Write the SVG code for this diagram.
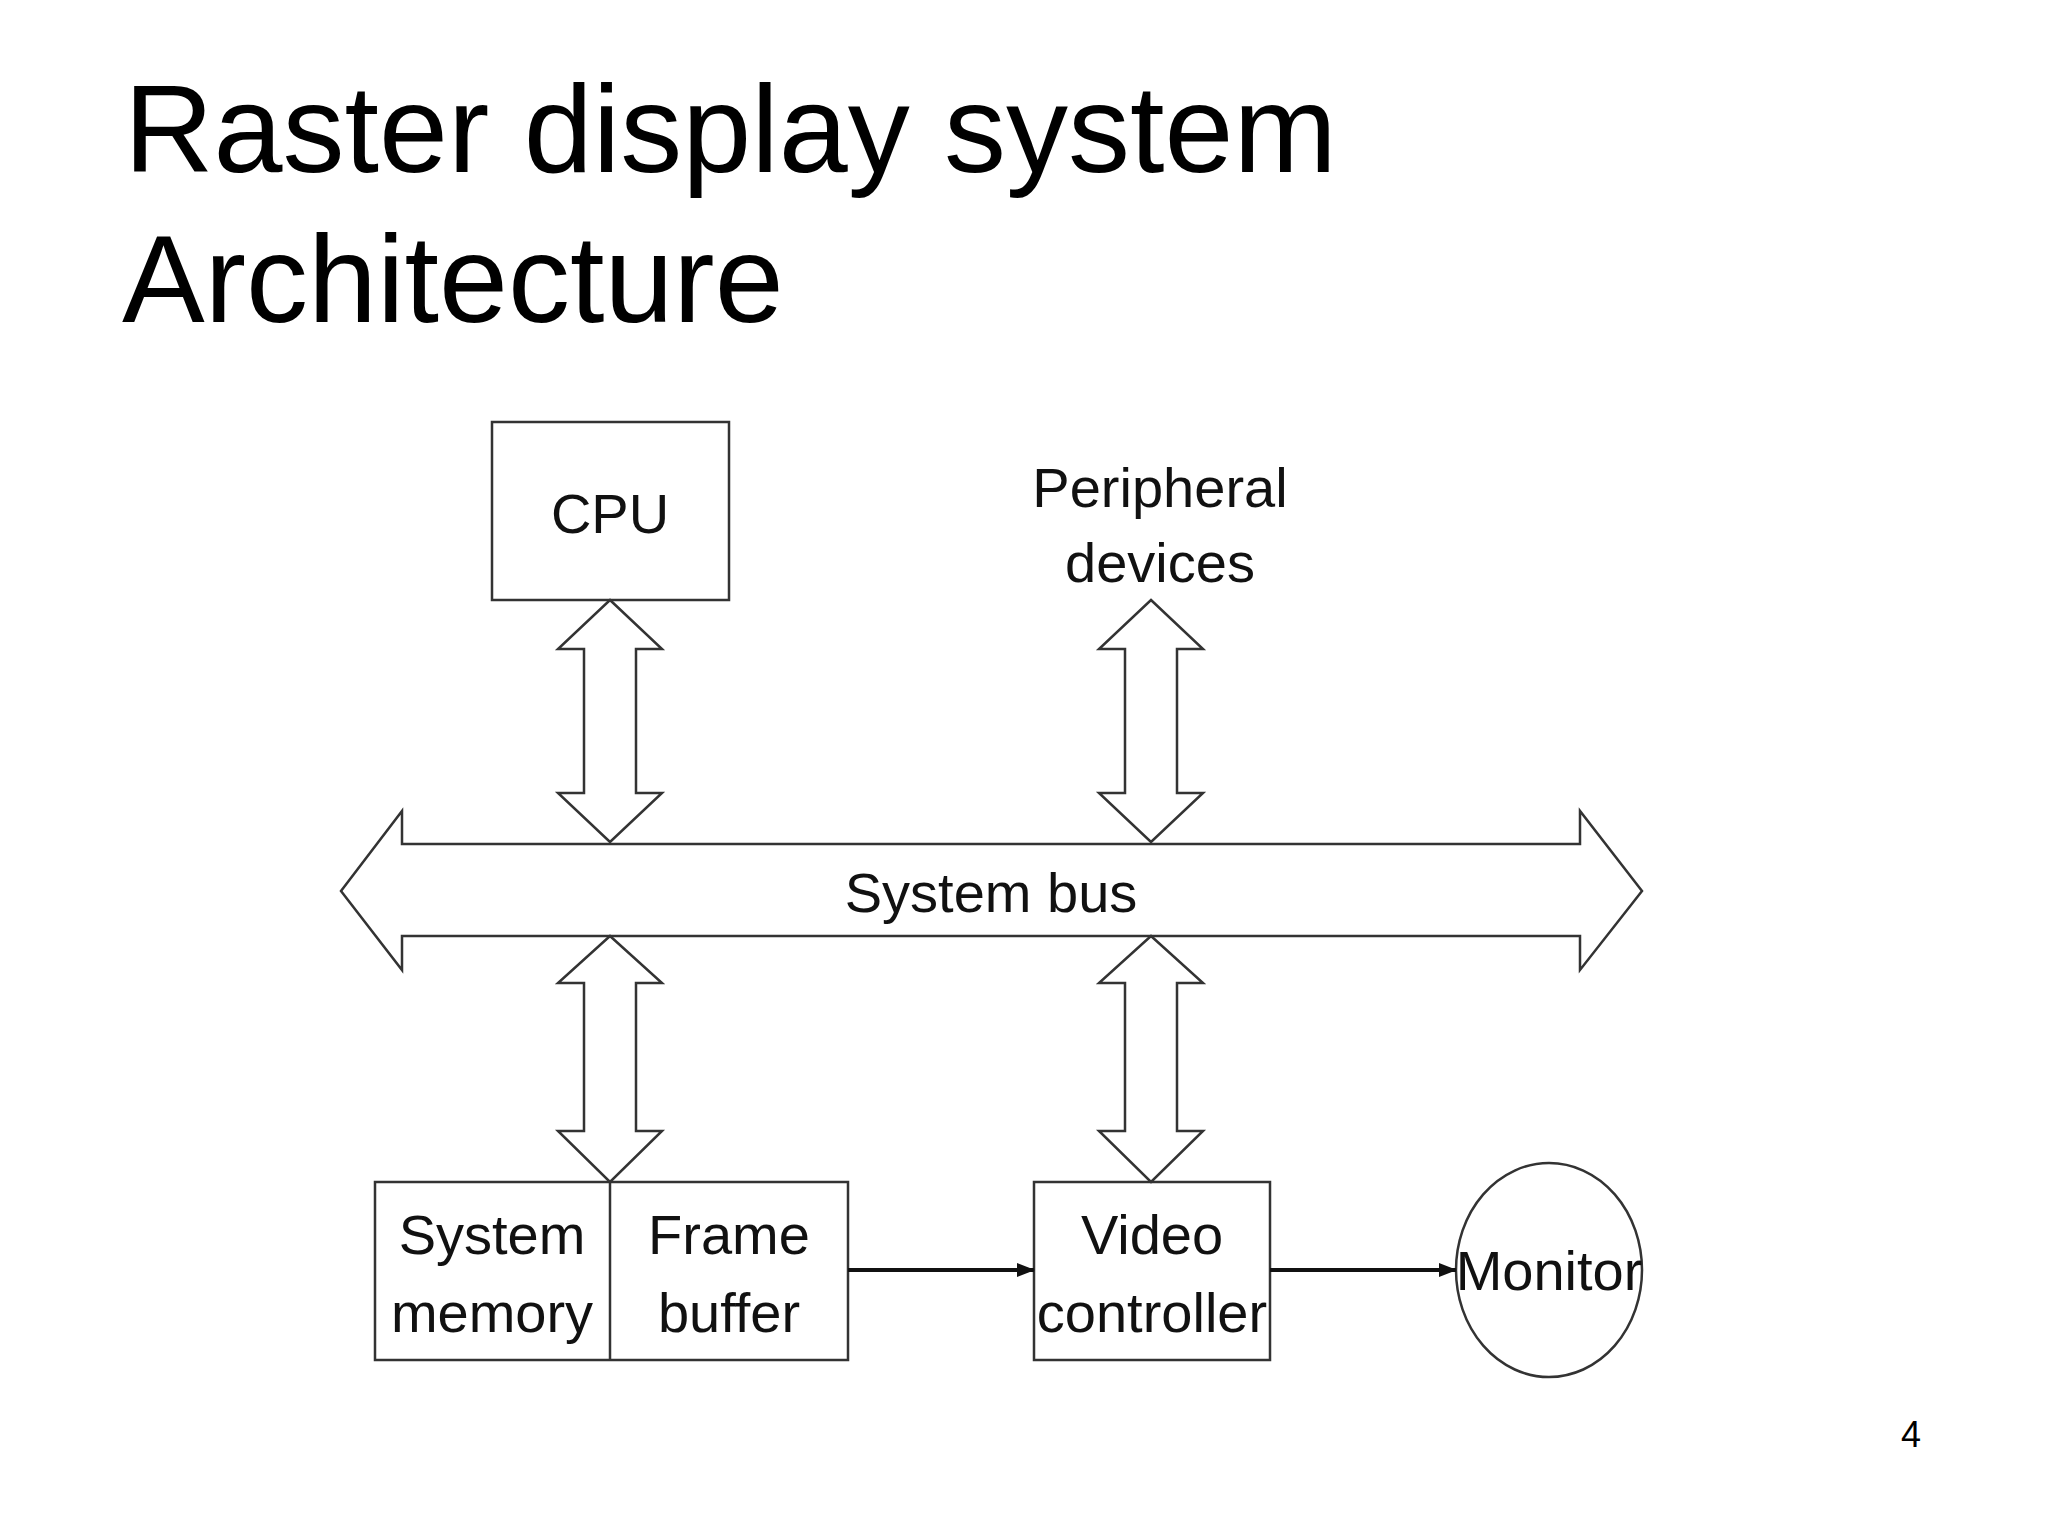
<svg xmlns="http://www.w3.org/2000/svg" width="2048" height="1536" viewBox="0 0 2048 1536">
<style>
.t{font-family:"Liberation Sans Narrow","Liberation Sans",Arial,sans-serif;font-size:56px;text-anchor:middle;fill:#111}
.s{fill:#fff;stroke:#333;stroke-width:2.5}
.title{font-family:"Liberation Sans",Arial,sans-serif;font-size:124px;fill:#000}
</style>
<defs>
<marker id="ah" markerWidth="10" markerHeight="10" refX="9" refY="5" orient="auto" markerUnits="userSpaceOnUse" viewBox="0 0 10 10"><path d="M0,0 L10,5 L0,10 z" fill="#111"/></marker>
<marker id="ah2" markerWidth="18" markerHeight="18" refX="17" refY="9" orient="auto" markerUnits="userSpaceOnUse" viewBox="0 0 18 18"><path d="M0,2 L18,9 L0,16 z" fill="#111"/></marker>
</defs>
<rect width="2048" height="1536" fill="#fff"/>
<text class="title" x="124" y="172">Raster display system</text>
<text class="title" x="122" y="322">Architecture</text>
<g id="cpu"><rect class="s" x="492" y="422" width="237" height="178"/><text class="t" x="610" y="533">CPU</text></g>
<g id="peripheral"><text class="t" x="1160" y="507">Peripheral</text><text class="t" x="1160" y="582">devices</text></g>
<g id="bus"><path class="s" d="M341,891 L402,811 L402,844 L1580,844 L1580,811 L1642,891 L1580,970 L1580,936 L402,936 L402,970 Z"/><text class="t" x="991" y="912">System bus</text></g>
<g id="memory"><rect class="s" x="375" y="1182" width="473" height="178"/><line x1="610" y1="1182" x2="610" y2="1360" stroke="#333" stroke-width="2.5"/><text class="t" x="492" y="1254">System</text><text class="t" x="492" y="1332">memory</text><text class="t" x="729" y="1254">Frame</text><text class="t" x="729" y="1332">buffer</text></g>
<g id="video"><rect class="s" x="1034" y="1182" width="236" height="178"/><text class="t" x="1152" y="1254">Video</text><text class="t" x="1152" y="1332">controller</text></g>
<g id="monitor"><ellipse class="s" cx="1549" cy="1270" rx="93" ry="107"/><text class="t" x="1549" y="1290">Monitor</text></g>
<g id="connectors">
<path class="s" d="M610,600 L662,649 L636,649 L636,793 L662,793 L610,842 L558,793 L584,793 L584,649 L558,649 Z"/>
<path class="s" d="M1151,600 L1203,649 L1177,649 L1177,793 L1203,793 L1151,842 L1099,793 L1125,793 L1125,649 L1099,649 Z"/>
<path class="s" d="M610,936 L662,983 L636,983 L636,1131 L662,1131 L610,1182 L558,1131 L584,1131 L584,983 L558,983 Z"/>
<path class="s" d="M1151,936 L1203,983 L1177,983 L1177,1131 L1203,1131 L1151,1182 L1099,1131 L1125,1131 L1125,983 L1099,983 Z"/>
<line x1="848" y1="1270" x2="1034" y2="1270" stroke="#111" stroke-width="4" marker-end="url(#ah2)"/>
<line x1="1270" y1="1270" x2="1456" y2="1270" stroke="#111" stroke-width="4" marker-end="url(#ah2)"/>
</g>
<text x="1911" y="1447" font-family="Liberation Sans,Arial,sans-serif" font-size="36" text-anchor="middle">4</text>
</svg>
